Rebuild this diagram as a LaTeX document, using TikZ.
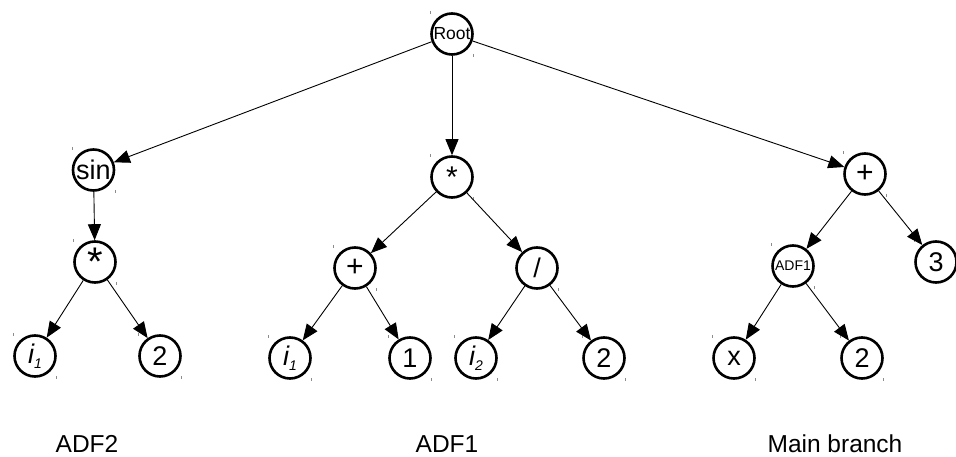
\documentclass[tikz,border=0pt]{standalone}
\usepackage{fontspec}
\setmainfont{Liberation Sans}
\usetikzlibrary{arrows.meta}
\begin{document}
\begin{tikzpicture}[x=1pt,y=-1pt,
  op/.style={circle,draw=black,line width=2.6pt,minimum size=41pt,inner sep=0pt,font=\fontsize{27}{27}\selectfont},
  edge/.style={line width=0.9pt,-{Triangle[length=16pt,width=13pt]}},
  tick/.style={draw=black!45,line width=0.8pt},
  caption/.style={font=\fontsize{24.5}{24.5}\selectfont,anchor=base}]
\useasboundingbox (0,0) rectangle (956,457);

% top of the tree
\node[op,font=\fontsize{17.5}{17.5}\selectfont] (root) at (452,34) {Root};

% ADF2 branch
\node[op] (sin) at (93.5,170) {sin};
\node[op,font=\fontsize{40}{40}\selectfont] (mulL) at (95,262) {\raisebox{-6pt}{*}};
\node[op] (iL) at (35,356) {\itshape i\raisebox{-5pt}{\fontsize{14}{14}\selectfont 1}};
\node[op] (twoL) at (160,356) {2};

% ADF1 branch
\node[op,font=\fontsize{30}{30}\selectfont] (mulM) at (452,177) {\raisebox{-4pt}{*}};
\node[op,font=\fontsize{30}{30}\selectfont] (plusM) at (355,268) {+};
\node[op] (divM) at (537,268) {/};
\node[op] (iM) at (290,358) {\itshape i\raisebox{-5pt}{\fontsize{14}{14}\selectfont 1}};
\node[op] (oneM) at (410,358) {1};
\node[op] (iiM) at (476,358) {\itshape i\raisebox{-5pt}{\fontsize{14}{14}\selectfont 2}};
\node[op] (twoM) at (604,358) {2};

% main branch
\node[op,font=\fontsize{30}{30}\selectfont] (plusR) at (865,174) {+};
\node[op,font=\fontsize{14}{14}\selectfont] (adf) at (793,266) {ADF1};
\node[op] (three) at (936,262) {3};
\node[op] (xR) at (734,358) {x};
\node[op] (twoR) at (862,358) {2};

% corner marks of each node frame
\foreach \n in {root,sin,mulL,iL,twoL,mulM,plusM,divM,iM,oneM,iiM,twoM,plusR,adf,three,xR,twoR}{
  \draw[tick] ([xshift=-21.5pt,yshift=23pt]\n.center) -- ++(0,-3pt);
  \draw[tick] ([xshift=21.5pt,yshift=-20pt]\n.center) -- ++(0,-3pt);
}

% connectors
\draw[edge] (root) -- (sin);
\draw[edge] (root) -- (mulM);
\draw[edge] (root) -- (plusR);
\draw[edge] (sin) -- (mulL);
\draw[edge] (mulL) -- (iL);
\draw[edge] (mulL) -- (twoL);
\draw[edge] (mulM) -- (plusM);
\draw[edge] (mulM) -- (divM);
\draw[edge] (plusM) -- (iM);
\draw[edge] (plusM) -- (oneM);
\draw[edge] (divM) -- (iiM);
\draw[edge] (divM) -- (twoM);
\draw[edge] (plusR) -- (adf);
\draw[edge] (plusR) -- (three);
\draw[edge] (adf) -- (xR);
\draw[edge] (adf) -- (twoR);

% branch captions
\node[caption] (capA) at (87,452) {ADF2};
\node[caption] (capB) at (447,452) {ADF1};
\node[caption] (capC) at (835,452) {Main branch};
\end{tikzpicture}
\end{document}
